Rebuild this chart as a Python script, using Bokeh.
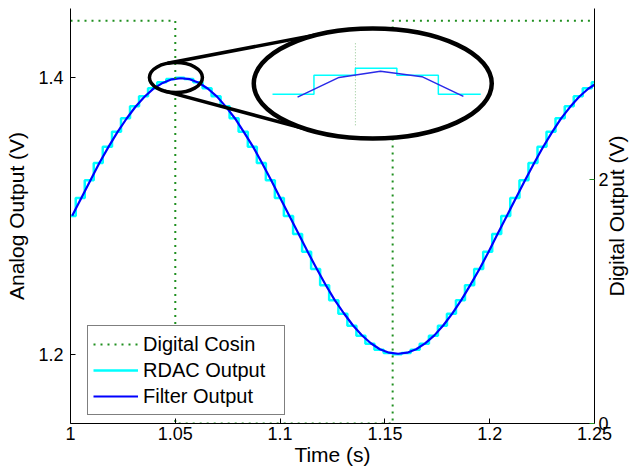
import math
from bokeh.plotting import figure
from bokeh.models import (Range1d, LinearAxis, FixedTicker, PrintfTickFormatter,
                          Legend, LegendItem, Label)
from bokeh.embed import file_html
from bokeh.resources import INLINE

# ---------------- data ----------------
rdac_t = [0.9982, 1.0025, 1.0068, 1.0111, 1.0154, 1.0198, 1.0241, 1.0284, 1.0327, 1.0370,
          1.0414, 1.0457, 1.0500, 1.0543, 1.0586, 1.0630, 1.0673, 1.0716, 1.0759, 1.0802,
          1.0846, 1.0889, 1.0932, 1.0975, 1.1018, 1.1062, 1.1105, 1.1148, 1.1191, 1.1234,
          1.1278, 1.1321, 1.1364, 1.1407, 1.1450, 1.1494, 1.1537, 1.1580, 1.1623, 1.1666,
          1.1710, 1.1753, 1.1796, 1.1839, 1.1882, 1.1926, 1.1969, 1.2012, 1.2055, 1.2098,
          1.2142, 1.2185, 1.2228, 1.2271, 1.2314, 1.2358, 1.2401, 1.2444, 1.2487, 1.2530]
rdac_v = [1.3000, 1.3130, 1.3259, 1.3383, 1.3500, 1.3609, 1.3707, 1.3793, 1.3866, 1.3924,
          1.3966, 1.3991, 1.4000, 1.3991, 1.3966, 1.3924, 1.3866, 1.3793, 1.3707, 1.3609,
          1.3500, 1.3383, 1.3259, 1.3130, 1.3000, 1.2870, 1.2741, 1.2617, 1.2500, 1.2391,
          1.2293, 1.2207, 1.2134, 1.2076, 1.2034, 1.2009, 1.2000, 1.2009, 1.2034, 1.2076,
          1.2134, 1.2207, 1.2293, 1.2391, 1.2500, 1.2617, 1.2741, 1.2870, 1.3000, 1.3130,
          1.3259, 1.3383, 1.3500, 1.3609, 1.3707, 1.3793, 1.3866, 1.3924, 1.3966, 1.3991]

filter_t = [1.0008, 1.0051, 1.0094, 1.0137, 1.0180, 1.0224, 1.0267, 1.0310, 1.0353, 1.0396,
            1.0440, 1.0483, 1.0526, 1.0569, 1.0612, 1.0656, 1.0699, 1.0742, 1.0785, 1.0828,
            1.0872, 1.0915, 1.0958, 1.1001, 1.1044, 1.1088, 1.1131, 1.1174, 1.1217, 1.1260,
            1.1304, 1.1347, 1.1390, 1.1433, 1.1476, 1.1520, 1.1563, 1.1606, 1.1649, 1.1692,
            1.1736, 1.1779, 1.1822, 1.1865, 1.1908, 1.1952, 1.1995, 1.2038, 1.2081, 1.2124,
            1.2168, 1.2211, 1.2254, 1.2297, 1.2340, 1.2384, 1.2427, 1.2470, 1.2513]
filter_v = [1.3002, 1.3128, 1.3255, 1.3381, 1.3496, 1.3606, 1.3703, 1.3790, 1.3862, 1.3921,
            1.3962, 1.3988, 1.3996, 1.3989, 1.3963, 1.3920, 1.3863, 1.3789, 1.3705, 1.3605,
            1.3498, 1.3380, 1.3257, 1.3128, 1.3001, 1.2872, 1.2743, 1.2620, 1.2503, 1.2394,
            1.2297, 1.2210, 1.2138, 1.2080, 1.2037, 1.2012, 1.2004, 1.2012, 1.2037, 1.2079,
            1.2137, 1.2210, 1.2296, 1.2394, 1.2502, 1.2619, 1.2742, 1.2871, 1.2999, 1.3127,
            1.3256, 1.3379, 1.3497, 1.3605, 1.3704, 1.3789, 1.3862, 1.3920, 1.3962]

dig_t = [1.0, 1.05, 1.1537, 1.25]
dig_v = [3.3, 0.0, 3.3, 3.3]

x_ticks = [1.0, 1.05, 1.1, 1.15, 1.2, 1.25]
left_ticks = [1.2, 1.4]
right_ticks = [0, 2]

legend_labels = ["Digital Cosin", "RDAC Output", "Filter Output"]
x_title = "Time (s)"
left_title = "Analog Output (V)"
right_title = "Digital Output (V)"

# ---------------- layout / style ----------------
FONT = "Liberation Sans"
FS_TICK = "18px"
FS_LAB = "21px"
FS_LEG = "20px"
GREEN = "#1f8f1f"
CYAN = "#00FFFF"
BLUE = "#0000FF"

W, H = 634, 472
ML, MR, MT, MB = 70, 37, 8, 49
FW, FH = W - ML - MR, H - MT - MB
X0, X1 = 1.0, 1.25
Y0, Y1 = 1.15, 1.45
D0, D1 = 0.0, 3.4
PX_T = FW / (X1 - X0)
PX_V = FH / (Y1 - Y0)
RTITLE_DX = 22          # px from the right axis to the centre of its title

# magnifier geometry (frame pixel units)
SMALL_T, SMALL_V = 1.0503, 1.4001       # small ellipse centre (data)
SMALL_W, SMALL_H = 53, 30
BIG_SX, BIG_SY = 304, 75                # big ellipse centre (frame px)
BIG_W, BIG_H = 238, 110
ZM_X, ZM_Y = 4.6, 5.5
ZC_T, ZC_V = 1.0518, 1.3980             # data shown at the magnifier centre
Z_LO, Z_HI = 1.041, 1.0635              # time window shown in the magnifier


def to_data(sx, sy):
    return X0 + sx / PX_T, Y1 - sy / PX_V


small_sx = (SMALL_T - X0) * PX_T
small_sy = (Y1 - SMALL_V) * PX_V
BIG_T, BIG_V = to_data(BIG_SX, BIG_SY)

p = figure(width=W, height=H, x_range=Range1d(X0, X1), y_range=Range1d(Y0, Y1),
           output_backend="svg", toolbar_location=None,
           min_border_left=ML, min_border_right=MR, min_border_top=MT,
           min_border_bottom=MB)
p.outline_line_color = None
p.grid.visible = False
p.background_fill_color = "white"
p.border_fill_color = "white"

zx0 = ZC_T - BIG_SX / (PX_T * ZM_X)
zx1 = zx0 + (X1 - X0) / ZM_X
zy1 = ZC_V + BIG_SY / (PX_V * ZM_Y)
zy0 = zy1 - (Y1 - Y0) / ZM_Y
p.extra_x_ranges = {"zx": Range1d(zx0, zx1)}
p.extra_y_ranges = {"dig": Range1d(D0, D1), "zy": Range1d(zy0, zy1)}


def style_axis(ax, ticks, standoff):
    ax.ticker = FixedTicker(ticks=ticks)
    ax.formatter = PrintfTickFormatter(format="%g")
    ax.minor_tick_line_color = None
    ax.major_tick_in = 5
    ax.major_tick_out = 0
    ax.minor_tick_in = 0
    ax.minor_tick_out = 0
    ax.axis_line_color = "black"
    ax.major_tick_line_color = "black"
    ax.major_label_text_font = FONT
    ax.major_label_text_font_size = FS_TICK
    ax.major_label_text_color = "black"
    ax.major_label_standoff = standoff
    ax.axis_label_text_font = FONT
    ax.axis_label_text_font_size = FS_LAB
    ax.axis_label_text_font_style = "normal"
    ax.axis_label_text_color = "black"


style_axis(p.xaxis[0], x_ticks, 3)
p.xaxis[0].axis_label = x_title
p.xaxis[0].axis_label_standoff = 0
style_axis(p.yaxis[0], left_ticks, 7)
p.yaxis[0].axis_label = left_title
p.yaxis[0].axis_label_standoff = 7

rax = LinearAxis(y_range_name="dig")
style_axis(rax, right_ticks, 4)
rax.major_tick_line_color = GREEN
p.add_layout(rax, "right")

# right title, reading bottom-to-top, placed in the right side panel
p.add_layout(Label(x=X1 + RTITLE_DX / PX_T, y=(D0 + D1) / 2, y_range_name="dig",
                   text=right_title, angle=90, angle_units="deg",
                   text_align="center", text_baseline="middle",
                   text_font=FONT, text_font_size=FS_LAB, text_color="black"),
             "right")

# ---------------- main curves ----------------
r_rdac = p.step(rdac_t, rdac_v, mode="after", line_color=CYAN, line_width=2.5)
r_filt = p.line(filter_t, filter_v, line_color=BLUE, line_width=2.2)
r_dig = p.step(dig_t, dig_v, mode="after", y_range_name="dig",
               line_color=GREEN, line_width=2, line_dash="2 5")

# ---------------- magnifier ----------------
def tangent(upper):
    cx1, cy1, a1, b1 = small_sx, small_sy, SMALL_W / 2, SMALL_H / 2
    cx2, cy2, a2, b2 = BIG_SX, BIG_SY, BIG_W / 2, BIG_H / 2
    s = -1 if upper else 1

    def g(m):
        n1 = math.sqrt(a1 * a1 * m * m + b1 * b1)
        n2 = math.sqrt(a2 * a2 * m * m + b2 * b2)
        return (cy1 - m * cx1 + s * n1) - (cy2 - m * cx2 + s * n2)

    lo, hi = (-1.0, 0.0) if upper else (0.0, 1.0)
    glo = g(lo)
    for _ in range(80):
        mid = (lo + hi) / 2
        gm = g(mid)
        if (gm > 0) == (glo > 0):
            lo, glo = mid, gm
        else:
            hi = mid
    m = (lo + hi) / 2
    pts = []
    for cx, cy, a, b in ((cx1, cy1, a1, b1), (cx2, cy2, a2, b2)):
        n = math.sqrt(a * a * m * m + b * b)
        if upper:
            pts.append((cx + a * a * m / n, cy - b * b / n))
        else:
            pts.append((cx - a * a * m / n, cy + b * b / n))
    return pts


for up in (True, False):
    (sx0, sy0), (sx1, sy1) = tangent(up)
    t0, v0 = to_data(sx0, sy0)
    t1, v1 = to_data(sx1, sy1)
    p.segment(x0=[t0], y0=[v0], x1=[t1], y1=[v1], line_color="black", line_width=3.5)

p.ellipse(x=[SMALL_T], y=[SMALL_V], width=SMALL_W, height=SMALL_H,
          width_units="screen", height_units="screen",
          fill_color=None, line_color="black", line_width=3.5)
p.ellipse(x=[BIG_T], y=[BIG_V], width=BIG_W, height=BIG_H,
          width_units="screen", height_units="screen",
          fill_color="white", line_color="black", line_width=4.5)

idx = [i for i, t in enumerate(rdac_t) if Z_LO <= t <= Z_HI]
ins_rt = [rdac_t[i] for i in idx]
ins_rv = [rdac_v[i] for i in idx[:-1]] + [rdac_v[idx[-2]]]
fidx = [i for i, t in enumerate(filter_t) if Z_LO <= t <= Z_HI]
ins_ft = [filter_t[i] for i in fidx]
ins_fv = [filter_v[i] for i in fidx]

zv_top = zy1 - (BIG_SY - 0.76 * BIG_H / 2) / (PX_V * ZM_Y)
zv_bot = zy1 - (BIG_SY + 0.76 * BIG_H / 2) / (PX_V * ZM_Y)
p.segment(x0=[dig_t[1]], y0=[zv_bot], x1=[dig_t[1]], y1=[zv_top],
          x_range_name="zx", y_range_name="zy",
          line_color="#8fc48f", line_width=1, line_dash="1 2")
p.step(ins_rt, ins_rv, mode="after", x_range_name="zx", y_range_name="zy",
       line_color=CYAN, line_width=1.5)
p.line(ins_ft, ins_fv, x_range_name="zx", y_range_name="zy",
       line_color="#2a2ae8", line_width=1.5)

# ---------------- legend ----------------
legend = Legend(items=[LegendItem(label=legend_labels[0], renderers=[r_dig]),
                       LegendItem(label=legend_labels[1], renderers=[r_rdac]),
                       LegendItem(label=legend_labels[2], renderers=[r_filt])],
                location=(17, 8))
legend.border_line_color = "black"
legend.border_line_width = 1
legend.background_fill_color = "white"
legend.background_fill_alpha = 1
legend.label_text_font = FONT
legend.label_text_font_size = FS_LEG
legend.label_text_color = "black"
legend.padding = 5
legend.spacing = 0
legend.margin = 0
legend.label_height = 26
legend.glyph_height = 26
legend.glyph_width = 45
legend.label_standoff = 5
legend.label_width = 136
p.add_layout(legend)

open("out.html", "w").write(file_html(p, INLINE))
